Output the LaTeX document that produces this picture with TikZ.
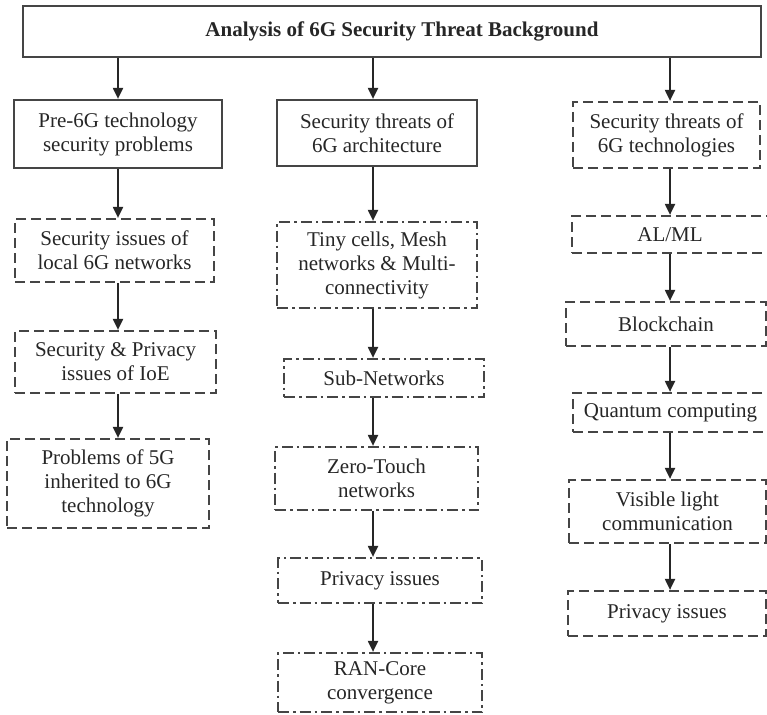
\documentclass[tikz,border=0pt]{standalone}
\usepackage{fontspec}
\setmainfont{Liberation Serif}
\usetikzlibrary{arrows.meta}

\definecolor{edge}{HTML}{454545}
\definecolor{ink}{HTML}{262626}

\tikzset{
  box/.style={draw=edge, line width=2.2pt, align=center, inner sep=0pt,
              font=\fontsize{21}{24}\selectfont, text=ink},
  solidbox/.style={box},
  dashbox/.style={box, dash pattern=on 10pt off 5pt},
  dotdashbox/.style={box, dash pattern=on 11pt off 4pt on 2.5pt off 4pt},
  arr/.style={draw=ink, line width=2pt,
              -{Triangle[length=11pt,width=10pt]}},
}

\begin{document}
\begin{tikzpicture}[x=1pt,y=-1pt]
  \useasboundingbox (0,0) rectangle (767,714);

  % column axes for the connectors
  \coordinate (axA) at (118,0);
  \coordinate (axB) at (373,0);
  \coordinate (axC) at (670,0);

  % heading
  \node[solidbox, minimum width=738pt, minimum height=51pt,
        font=\bfseries\fontsize{21}{24}\selectfont]
        (title) at (392,31.5) {\hspace*{20pt}Analysis of 6G Security Threat Background};

  % first level
  \node[solidbox, minimum width=208pt, minimum height=68pt] (pre) at (118,134)
        {Pre-6G technology\\security problems};
  \node[solidbox, minimum width=200pt, minimum height=66pt] (arch) at (377,133)
        {Security threats of\\6G architecture};
  \node[dashbox, minimum width=187pt, minimum height=66pt] (tech) at (666.5,135)
        {Security threats of\\6G technologies};

  % pre-6G column
  \node[dashbox, minimum width=199pt, minimum height=63pt] (a1) at (114.5,250.5)
        {Security issues of\\local 6G networks};
  \node[dashbox, minimum width=201pt, minimum height=62pt] (a2) at (115.5,362)
        {Security \& Privacy\\issues of IoE};
  \node[dashbox, minimum width=202pt, minimum height=89pt] (a3) at (108,483.5)
        {Problems of 5G\\inherited to 6G\\technology};

  % architecture column
  \node[dotdashbox, minimum width=200pt, minimum height=86pt] (b1) at (377,265)
        {Tiny cells, Mesh\\networks \& Multi-\\connectivity};
  \node[dotdashbox, minimum width=200pt, minimum height=38pt] (b2) at (384,378)
        {Sub-Networks};
  \node[dotdashbox, minimum width=203pt, minimum height=63pt] (b3) at (376.5,478.5)
        {Zero-Touch\\networks};
  \node[dotdashbox, minimum width=204pt, minimum height=45pt] (b4) at (380,580.5)
        {Privacy issues};
  \node[dotdashbox, minimum width=204pt, minimum height=59pt] (b5) at (380,682.5)
        {RAN-Core\\convergence};

  % technologies column
  \node[dashbox, minimum width=196pt, minimum height=37pt] (c1) at (670,234.5)
        {AL/ML};
  \node[dashbox, minimum width=200pt, minimum height=44pt] (c2) at (666,324)
        {Blockchain};
  \node[dashbox, minimum width=195pt, minimum height=39pt] (c3) at (670.5,412.5)
        {Quantum computing};
  \node[dashbox, minimum width=197pt, minimum height=63pt] (c4) at (667.5,511.5)
        {Visible light\\communication};
  \node[dashbox, minimum width=198pt, minimum height=45pt] (c5) at (667,613.5)
        {Privacy issues};

  % connectors
  \draw[arr] (title.south -| axA) -- (pre.north -| axA);
  \draw[arr] (title.south -| axB) -- (arch.north -| axB);
  \draw[arr] (title.south -| axC) -- (tech.north -| axC);

  \draw[arr] (pre.south -| axA) -- (a1.north -| axA);
  \draw[arr] (a1.south -| axA) -- (a2.north -| axA);
  \draw[arr] (a2.south -| axA) -- (a3.north -| axA);

  \draw[arr] (arch.south -| axB) -- (b1.north -| axB);
  \draw[arr] (b1.south -| axB) -- (b2.north -| axB);
  \draw[arr] (b2.south -| axB) -- (b3.north -| axB);
  \draw[arr] (b3.south -| axB) -- (b4.north -| axB);
  \draw[arr] (b4.south -| axB) -- (b5.north -| axB);

  \draw[arr] (tech.south -| axC) -- (c1.north -| axC);
  \draw[arr] (c1.south -| axC) -- (c2.north -| axC);
  \draw[arr] (c2.south -| axC) -- (c3.north -| axC);
  \draw[arr] (c3.south -| axC) -- (c4.north -| axC);
  \draw[arr] (c4.south -| axC) -- (c5.north -| axC);
\end{tikzpicture}
\end{document}
